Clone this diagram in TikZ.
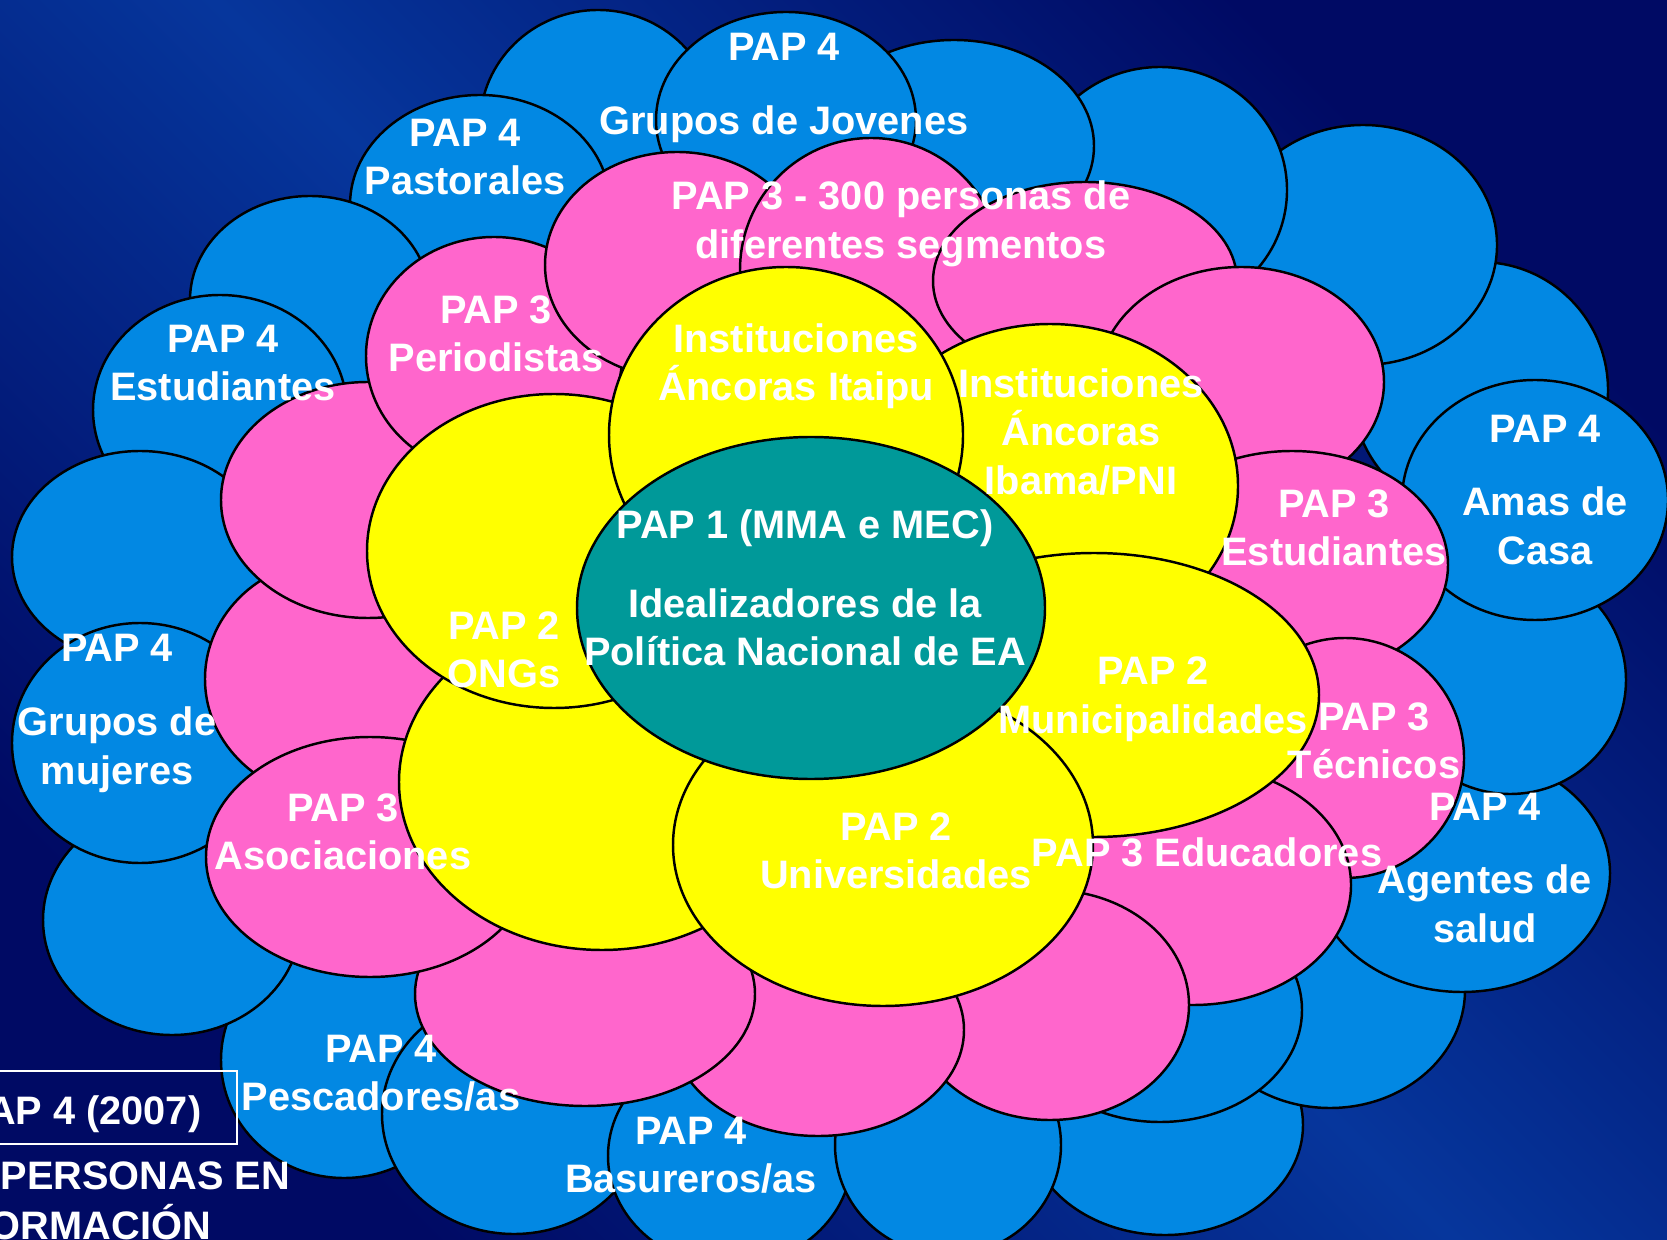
\documentclass[tikz,border=0pt]{standalone}
\usepackage{fontspec}
\setmainfont{Liberation Sans}

\definecolor{papfour}{HTML}{0288E3}
\definecolor{papthree}{HTML}{FF66CC}
\definecolor{paptwo}{HTML}{FFFF00}
\definecolor{papone}{HTML}{009999}
\definecolor{bglight}{HTML}{06369C}
\definecolor{bgdark}{HTML}{000A64}

\tikzset{
  fourblob/.style={fill=papfour, draw=black, line width=0.7pt},
  threeblob/.style={fill=papthree, draw=black, line width=0.7pt},
  twoblob/.style={fill=paptwo, draw=black, line width=0.7pt},
  oneblob/.style={fill=papone, draw=black, line width=0.7pt},
  lbl/.style={text=white, font=\bfseries\fontsize{11.3}{13.8}\selectfont,
    align=center, inner sep=0pt},
}

\begin{document}
\begin{tikzpicture}[x=0.01cm, y=-0.01cm]
  \useasboundingbox (0,0) rectangle (1667,1240);
  \clip (0,0) rectangle (1667,1240);
  \shade[top color=bgdark, bottom color=bgdark, middle color=bglight, shading angle=-45]
    (0,0) rectangle (1667,1240);

  % PAP 4, outer ring
  \foreach \cx/\cy/\rx/\ry in {598/125/118/115, 480/205/130/110, 310/300/120/104,
      220/410/127/115, 140/557/128/106, 344/1060/123/118, 172/920/129/115,
      140/743/128/120, 514/1114/132/120, 730/1156/122/110, 1165/1125/138/110,
      948/1145/113/110, 1330/990/135/118, 1160/1010/142/112, 1462/873/148/119,
      1510/680/116/114, 1480/390/128/128, 1535/500/133/120, 1363/245/134/120,
      1160/190/127/123, 954/146/140/106, 786/120/130/108}
    \draw[fourblob] (\cx,\cy) ellipse [x radius=\rx, y radius=\ry];

  % PAP 3
  \foreach \cx/\cy/\rx/\ry in {335/679/130/120, 368/500/147/118, 494/356/128/119,
      677/265/132/113, 871/270/131/132, 1085/281/152/99, 1241/382/143/115,
      1292/565/156/114, 1345/758/119/120, 1193/885/158/120, 1050/1005/139/115,
      818/1030/146/106, 585/994/170/112, 370/857/164/120}
    \draw[threeblob] (\cx,\cy) ellipse [x radius=\rx, y radius=\ry];

  % PAP 2
  \foreach \cx/\cy/\rx/\ry in {1050/486/188/162, 1094/695/225/142, 602/782/203/168,
      883/845/210/161, 554/551/187/157, 786/435/177/168}
    \draw[twoblob] (\cx,\cy) ellipse [x radius=\rx, y radius=\ry];

  % PAP 1
  \draw[oneblob] (811,608) ellipse [x radius=234, y radius=171];

  % labels
  \node[lbl] (jov) at (784,88) {PAP 4\\[0.26cm]Grupos de Jovenes};
  \node[lbl] (past) at (465,157) {PAP 4\\Pastorales};
  \node[lbl] (estfour) at (223,363) {PAP 4\\Estudiantes};
  \node[lbl] (peri) at (496,334) {PAP 3\\Periodistas};
  \node[lbl] (segm) at (901,224) {PAP 3 - 300 personas de\\diferentes segmentos};
  \node[lbl] (itai) at (796,366) {Instituciones\\Áncoras Itaipu};
  \node[lbl] (ibam) at (1081,432) {Instituciones\\Áncoras\\Ibama/PNI};
  \node[lbl] (mma) at (805,588) {PAP 1 (MMA e MEC)\\[0.3cm]Idealizadores de la\\Política Nacional de EA};
  \node[lbl] (ong) at (504,650) {PAP 2\\ONGs};
  \node[lbl] (muni) at (1153,699) {PAP 2\\Municipalidades};
  \node[lbl] (tecn) at (1374,741) {PAP 3\\Técnicos};
  \node[lbl] (univ) at (896,851) {PAP 2\\Universidades};
  \node[lbl] (educ) at (1207,852) {PAP 3 Educadores};
  \node[lbl] (estthree) at (1334,528) {PAP 3\\Estudiantes};
  \node[lbl] (amas) at (1545,490) {PAP 4\\[0.25cm]Amas de\\Casa};
  \node[lbl] (salud) at (1485,868) {PAP 4\\[0.25cm]Agentes de\\salud};
  \node[lbl] (muje) at (117,713) {PAP 4\\[0.26cm]Grupos de\\mujeres};
  \node[lbl] (asoc) at (343,832) {PAP 3\\Asociaciones};
  \node[lbl] (pesc) at (381,1073) {PAP 4\\Pescadores/as};
  \node[lbl] (basu) at (691,1155) {PAP 4\\Basureros/as};

  % year box
  \draw[white, line width=0.6pt] (-20,1071) rectangle (237,1144);
  \node[lbl, anchor=base east] (year) at (202,1124) {PAP 4 (2007)};
  \node[lbl, anchor=base west] (pers) at (0,1189) {PERSONAS EN};
  \node[lbl, anchor=base west] (form) at (-35,1239) {FORMACIÓN};
\end{tikzpicture}
\end{document}
